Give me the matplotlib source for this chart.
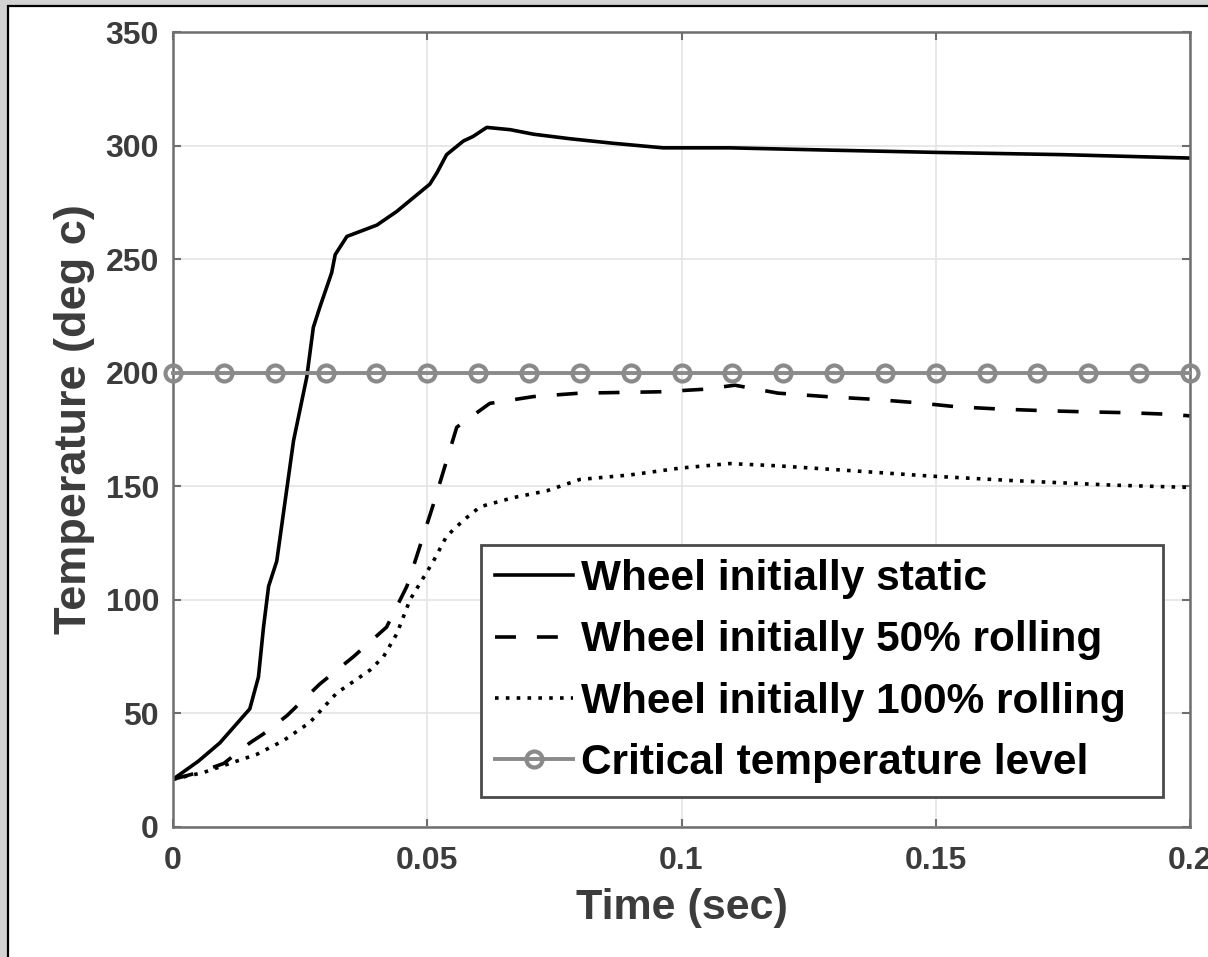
import matplotlib
matplotlib.use("Agg")
import matplotlib.pyplot as plt
from matplotlib.patches import Rectangle

plt.rcParams["font.family"] = ["Liberation Sans", "DejaVu Sans"]
plt.rcParams["font.weight"] = "bold"

# Wheel initially static
t_static = [0, 0.005, 0.0092, 0.0151, 0.0168, 0.0178, 0.0188, 0.0204, 0.0237, 0.0263,
            0.0276, 0.0289, 0.0312, 0.0319, 0.0342, 0.0401, 0.044, 0.0505, 0.0519, 0.0538,
            0.0571, 0.059, 0.0617, 0.0663, 0.0709, 0.0781, 0.0866, 0.0964, 0.1095, 0.129,
            0.15, 0.175, 0.2]
T_static = [21, 29, 37, 52, 66, 88, 106, 117, 170, 198,
            220, 229, 244, 252, 260, 265, 271, 283, 288, 296,
            302, 304, 308, 307, 305, 303, 301, 299, 299, 298,
            297, 296, 294.5]

# Wheel initially 50% rolling
t_half = [0, 0.005, 0.01, 0.0151, 0.0178, 0.0224, 0.0289, 0.0355, 0.042, 0.046,
          0.0479, 0.0512, 0.0535, 0.0558, 0.0623, 0.0709, 0.08, 0.0879, 0.0958, 0.1043,
          0.1105, 0.119, 0.129, 0.1377, 0.1462, 0.1541, 0.1626, 0.1711, 0.179, 0.1876,
          0.196, 0.2]
T_half = [21, 24, 28, 37, 41, 49, 63, 75, 88, 106,
          119, 142, 159, 176, 186.5, 189.5, 191, 191.3, 191.6, 192.7,
          194.5, 191, 189.4, 188.3, 186.8, 185, 184, 183.3, 182.8, 182.4,
          181.7, 181]

# Wheel initially 100% rolling
t_full = [0, 0.006, 0.0112, 0.0165, 0.0217, 0.0269, 0.0322, 0.0387, 0.0414, 0.044,
          0.0466, 0.0512, 0.0538, 0.0571, 0.0604, 0.0669, 0.0735, 0.08, 0.0899, 0.0997,
          0.1095, 0.119, 0.1325, 0.1489, 0.1652, 0.1849, 0.2]
T_full = [21, 24, 28, 32, 38, 46, 59, 69, 75, 85,
          100, 117, 128, 135, 141, 145, 148, 153, 155, 158,
          160, 159, 157, 154.5, 152.5, 150.5, 149.5]

# Critical temperature level
t_crit = [0, 0.01, 0.02, 0.03, 0.04, 0.05, 0.06, 0.07, 0.08, 0.09, 0.1,
          0.11, 0.12, 0.13, 0.14, 0.15, 0.16, 0.17, 0.18, 0.19, 0.2]
T_crit = [200] * len(t_crit)

x_ticks = [0, 0.05, 0.1, 0.15, 0.2]
x_tick_labels = ["0", "0.05", "0.1", "0.15", "0.2"]
y_ticks = [0, 50, 100, 150, 200, 250, 300, 350]

W, H = 1208, 957
fig = plt.figure(figsize=(W / 100, H / 100), dpi=100)
fig.patch.set_facecolor("#d3d3d3")
frame = Rectangle((8 / W, -0.05), 1.2, (H - 6) / H + 0.05,
                  transform=fig.transFigure, facecolor="white",
                  edgecolor="black", linewidth=1.6, zorder=-10)
fig.add_artist(frame)

ax = fig.add_axes([173 / W, (H - 827) / H, (1190 - 173) / W, (827 - 32) / H])

ax.plot(t_static, T_static, color="black", lw=2.6, label="Wheel initially static")
ax.plot(t_half, T_half, color="black", lw=2.6, linestyle=(0, (5.8, 5.8)),
        label="Wheel initially 50% rolling")
ax.plot(t_full, T_full, color="black", lw=2.6, linestyle=(0, (1.0, 2.0)),
        label="Wheel initially 100% rolling")
ax.plot(t_crit, T_crit, color="#8a8a8a", lw=2.8, marker="o", markersize=11.5,
        markerfacecolor="none", markeredgewidth=3.0, markeredgecolor="#8a8a8a",
        label="Critical temperature level", clip_on=False, zorder=3)

ax.set_xlim(0, 0.2)
ax.set_ylim(0, 350)
ax.set_xticks(x_ticks)
ax.set_xticklabels(x_tick_labels)
ax.set_yticks(y_ticks)
ax.grid(True, color="#e4e4e4", linewidth=1.2)
ax.set_axisbelow(True)

for sp in ax.spines.values():
    sp.set_color("#6e6e6e")
    sp.set_linewidth(1.8)

ax.tick_params(axis="both", direction="in", length=6, width=1.5, color="#6e6e6e",
               top=True, right=True, labelsize=23, labelcolor="#3c3c3c")
ax.tick_params(axis="x", pad=14)
ax.tick_params(axis="y", pad=10)

ax.set_xlabel("Time (sec)", fontsize=31, color="#3c3c3c", fontweight="bold")
ax.set_ylabel("Temperature (deg c)", fontsize=32.5, color="#3c3c3c", fontweight="bold")
ax.xaxis.set_label_coords(0.5, -0.077)
ax.yaxis.set_label_coords(-0.077, 0.513)

leg = ax.legend(loc="lower left", bbox_to_anchor=(0.303, 0.038, 0.67, 0.322),
                mode="expand", fontsize=30.5,
                frameon=True, fancybox=False, framealpha=1, edgecolor="#4a4a4a",
                handlelength=1.84, handletextpad=0.19, labelspacing=0.5,
                borderpad=0.33, borderaxespad=0)
leg.get_frame().set_linewidth(2.0)
for txt in leg.get_texts():
    txt.set_fontweight("bold")

fig.savefig("out.png", dpi=100, facecolor=fig.get_facecolor())
